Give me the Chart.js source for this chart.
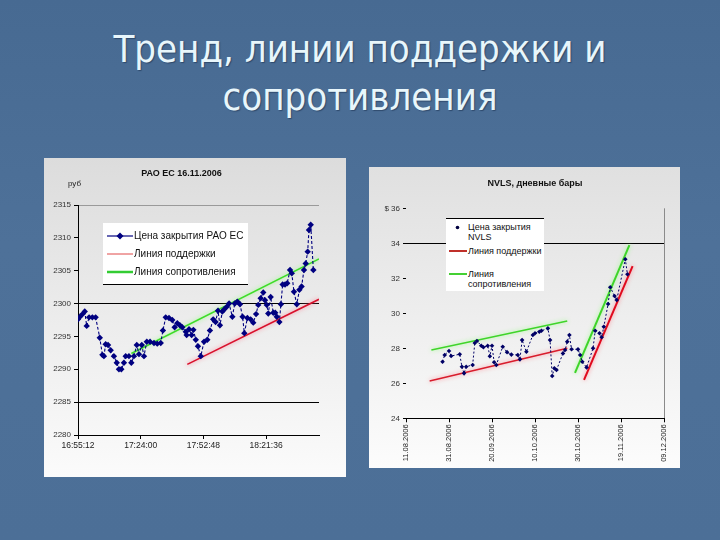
<!DOCTYPE html>
<html>
<head>
<meta charset="utf-8">
<script src="https://cdn.jsdelivr.net/npm/chart.js@4.4.1/dist/chart.umd.min.js"></script>
<style>
html,body{margin:0;padding:0;}
body{width:720px;height:540px;overflow:hidden;position:relative;
  background:linear-gradient(180deg,#476a92 0%,#4e7199 45%,#4c6f97 100%);
  font-family:"Liberation Sans",Arial,sans-serif;}
#slideTitle{position:absolute;left:0;top:25px;width:720px;text-align:center;color:#e8f6fb;
  font-family:"DejaVu Sans Condensed","DejaVu Sans",sans-serif;font-size:38px;line-height:48px;
  text-shadow:1px 1px 1px rgba(20,40,70,0.5);}
.panel{position:absolute;}
#p1{left:44px;top:158px;width:302px;height:319px;background:linear-gradient(180deg,#dcdcdc 0%,#ececec 50%,#fbfbfb 100%);}
#p2{left:369px;top:167px;width:311px;height:301px;background:linear-gradient(180deg,#e0e0e0 0%,#eeeeee 50%,#fcfcfc 100%);}
canvas{position:absolute;left:0;top:0;}
.unit{position:absolute;font-size:8px;color:#222;}
.leg{position:absolute;background:#fff;color:#111;white-space:nowrap;}
.leg .t{position:absolute;line-height:10px;}
.leg svg{position:absolute;}
</style>
</head>
<body>
<div id="slideTitle">Тренд, линии поддержки и<br>сопротивления</div>

<div class="panel" id="p1">
  <canvas id="c1" width="302" height="319"></canvas>
  <div class="unit" style="left:24px;top:21px;">руб</div>
  <div class="leg" style="left:59px;top:65px;width:145px;height:61px;border-bottom:1px solid #000;font-size:10px;">
    <svg style="left:4px;top:9px" width="26" height="8"><line x1="0" y1="4" x2="26" y2="4" stroke="#000080" stroke-width="1.2"/><polygon points="13,0.5 16.5,4 13,7.5 9.5,4" fill="#000080"/></svg>
    <div class="t" style="left:31px;top:8px;">Цена закрытия РАО ЕС</div>
    <svg style="left:4px;top:27px" width="26" height="8"><line x1="0" y1="4" x2="26" y2="4" stroke="#e04848" stroke-width="1"/></svg>
    <div class="t" style="left:31px;top:26px;">Линия поддержки</div>
    <svg style="left:4px;top:45px" width="26" height="8"><line x1="0" y1="4" x2="26" y2="4" stroke="#33cc33" stroke-width="2.5"/></svg>
    <div class="t" style="left:31px;top:44px;">Линия сопротивления</div>
  </div>
</div>

<div class="panel" id="p2">
  <canvas id="c2" width="311" height="301"></canvas>
  <div class="leg" style="left:77px;top:51px;width:98px;height:72px;border-top:1px solid #000;font-size:9px;">
    <svg style="left:8px;top:5px" width="7" height="7"><circle cx="3.5" cy="3.5" r="1.8" fill="#000040"/></svg>
    <div class="t" style="left:22px;top:3px;">Цена закрытия<br>NVLS</div>
    <svg style="left:3px;top:28px" width="18" height="8"><line x1="0" y1="4" x2="18" y2="4" stroke="#c0302a" stroke-width="2"/></svg>
    <div class="t" style="left:22px;top:27px;">Линия поддержки</div>
    <svg style="left:3px;top:51px" width="18" height="8"><line x1="0" y1="4" x2="18" y2="4" stroke="#44d033" stroke-width="2"/></svg>
    <div class="t" style="left:22px;top:50px;">Линия<br>сопротивления</div>
  </div>
</div>

<script>
// ---------- Chart 1: РАО ЕС intraday ----------
const raoTitle = 'РАО ЕС 16.11.2006';
const raoTickLabels = ['16:55:12', '17:24:00', '17:52:48', '18:21:36'];
const raoTimeEnd = '18:45:54';
// minutes after 16:55:12
const raoMinutes = [0,0.9,2.1,3.1,4.0,5.1,6.6,8.1,10.0,11.2,
  11.9,12.7,13.8,15.0,16.5,17.8,18.8,19.9,21.1,21.9,
  23.4,24.5,25.7,27.0,28.0,29.3,30.3,31.6,33.1,34.9,
  36.4,38.0,39.0,40.3,41.8,43.3,44.4,45.6,46.8,47.9,
  49.5,49.9,51.0,52.2,53.0,54.1,55.1,56.4,57.9,59.4,
  60.6,62.1,63.2,64.3,65.2,66.3,67.1,68.3,69.4,70.9,
  72.0,73.2,74.4,75.6,76.4,77.8,79.3,80.5,81.8,82.8,
  83.9,85.1,85.9,86.7,87.4,88.5,89.7,90.6,91.3,92.5,
  93.2,94.0,95.1,96.1,97.4,98.2,99.2,100.5,101.7,102.7,
  103.8,104.6,105.5,106.1,106.9,108.1];
const raoClose = [2297.6,2298.0,2298.4,2298.8,2296.6,2297.9,2297.9,2297.9,2294.8,2292.2,
  2292.0,2293.8,2293.7,2292.9,2292.0,2291.0,2290.0,2290.0,2291.0,2292.0,
  2292.0,2291.0,2292.0,2293.7,2292.3,2293.7,2292.0,2294.2,2294.2,2294.0,
  2293.9,2294.0,2295.9,2297.9,2297.8,2297.5,2296.4,2297.0,2296.7,2296.4,
  2295.7,2295.2,2296.1,2295.2,2296.0,2294.5,2293.5,2292.0,2294.2,2294.5,
  2295.9,2297.6,2297.2,2298.9,2296.7,2298.8,2299.1,2299.5,2300.0,2298.0,
  2300.0,2300.3,2299.9,2298.0,2295.5,2297.8,2297.6,2297.1,2298.4,2299.8,
  2300.8,2301.7,2300.5,2299.8,2298.5,2301.0,2298.6,2298.6,2298.0,2297.2,
  2299.9,2302.9,2302.9,2303.1,2305.1,2304.6,2301.8,2299.9,2302.1,2302.6,
  2305.1,2306.1,2307.9,2311.2,2312.0,2305.1];
const raoSupportMin = [50.2, 110.7];
const raoSupportVal = [2290.75, 2300.65];
const raoResistMin = [24.5, 110.7];
const raoResistVal = [2292.4, 2306.8];
const raoYMin = 2280, raoYMax = 2315, raoYStep = 5;

// ---------- Chart 2: NVLS daily ----------
const nvlsTitle = 'NVLS, дневные бары';
const nvlsTickLabels = ['11.08.2006','31.08.2006','20.09.2006','10.10.2006','30.10.2006','19.11.2006','09.12.2006'];
// days after 11.08.2006
const nvlsDays = [17,18,20,21,25,26,27,28,31,32,
  33,35,36,38,39,40,41,42,45,47,
  49,52,53,54,56,59,60,62,63,66,
  67,68,69,70,73,74,75,76,77,80,
  81,82,84,87,88,90,91,92,94,95,
  97,98,102,103];
const nvlsClose = [27.23,27.62,27.85,27.56,27.66,26.95,26.57,26.95,27.05,28.30,
  28.42,28.15,28.06,28.15,27.55,28.15,27.20,27.05,28.09,27.78,
  27.64,27.62,27.37,28.47,27.80,28.76,28.86,28.95,29.00,29.14,
  28.47,26.42,26.86,26.76,27.71,27.90,28.38,28.76,27.95,27.94,
  27.62,27.23,26.91,28.00,29.00,28.86,28.63,29.23,30.53,31.49,
  30.99,30.76,33.09,32.23];
const nvlsSupport1Day = [11.0, 75.0], nvlsSupport1Val = [26.13, 28.0];
const nvlsResist1Day = [11.8, 75.0], nvlsResist1Val = [27.9, 29.56];
const nvlsSupport2Day = [82.8, 105.4], nvlsSupport2Val = [26.19, 32.7];
const nvlsResist2Day = [78.6, 103.9], nvlsResist2Val = [26.6, 33.9];
const nvlsYMin = 24, nvlsYMax = 36, nvlsYStep = 2;

// ---------- helpers ----------
const toMin = s => { const [h, m, sec] = s.split(':').map(Number); return h * 60 + m + sec / 60; };
const raoStart = toMin(raoTickLabels[0]);
const raoTickValues = raoTickLabels.map(s => toMin(s) - raoStart);
const raoXMax = toMin(raoTimeEnd) - raoStart;

const toDay = s => { const [d, m, y] = s.split('.').map(Number); return Date.UTC(y, m - 1, d) / 86400000; };
const nvlsStart = toDay(nvlsTickLabels[0]);
const nvlsTickValues = nvlsTickLabels.map(s => toDay(s) - nvlsStart);

const pts = (xs, ys) => xs.map((x, i) => ({ x: x, y: ys[i] }));

const glowPlugin = {
  id: 'glow',
  beforeDatasetDraw(chart, args) {
    const ds = chart.data.datasets[args.index];
    if (ds.glowColor) { chart.ctx.save(); chart.ctx.shadowColor = ds.glowColor; chart.ctx.shadowBlur = 4; }
  },
  afterDatasetDraw(chart, args) {
    const ds = chart.data.datasets[args.index];
    if (ds.glowColor) chart.ctx.restore();
  }
};

const FONT = 'Liberation Sans';

// ---------- chart 1 ----------
new Chart(document.getElementById('c1'), {
  type: 'line',
  plugins: [glowPlugin],
  data: {
    datasets: [
      { label: 'Цена закрытия РАО ЕС', data: pts(raoMinutes, raoClose),
        borderColor: '#000080', backgroundColor: '#000080', borderWidth: 1.1, borderDash: [3, 2],
        pointStyle: 'rectRot', pointRadius: 3.2, pointBorderWidth: 0, tension: 0 },
      { label: 'Линия поддержки', data: pts(raoSupportMin, raoSupportVal),
        borderColor: '#d8102c', borderWidth: 1.6, pointRadius: 0, glowColor: 'rgba(255,120,140,0.9)' },
      { label: 'Линия сопротивления', data: pts(raoResistMin, raoResistVal),
        borderColor: '#3fdc2a', borderWidth: 1.6, pointRadius: 0, glowColor: 'rgba(140,255,120,0.9)' }
    ]
  },
  options: {
    responsive: false, animation: false,
    layout: { padding: { left: 0, right: 27, top: 0, bottom: 0 } },
    plugins: {
      legend: { display: false }, tooltip: { enabled: false },
      title: { display: true, text: raoTitle, color: '#111',
        font: { family: FONT, size: 9, weight: 'bold' }, padding: { top: 10, bottom: 26.2 } }
    },
    scales: {
      x: { type: 'linear', min: 0, max: raoXMax,
        afterBuildTicks: s => { s.ticks = raoTickValues.map(v => ({ value: v })); },
        afterFit: s => { s.height = 42; },
        ticks: { callback: (v, i) => raoTickLabels[i], color: '#222', font: { family: FONT, size: 8.5 },
          maxRotation: 0, autoSkip: false, padding: 2 },
        grid: { drawOnChartArea: false, color: '#000', tickLength: 4 },
        border: { color: '#000' } },
      y: { min: raoYMin, max: raoYMax,
        afterFit: s => { s.width = 34; },
        ticks: { stepSize: raoYStep, color: '#333', font: { family: FONT, size: 8 }, padding: 3,
          callback: v => String(v) },
        grid: { color: c => (c.tick.value === raoYMax ? '#9a9a9a' : ((raoYMax - c.tick.value) % 15 === 0 ? '#000' : 'rgba(0,0,0,0)')),
          tickColor: '#000', tickLength: 4 },
        border: { color: '#000' } }
    }
  }
});

// ---------- chart 2 ----------
new Chart(document.getElementById('c2'), {
  type: 'line',
  plugins: [glowPlugin],
  data: {
    datasets: [
      { label: 'Цена закрытия NVLS', data: pts(nvlsDays, nvlsClose),
        borderColor: '#000066', backgroundColor: '#000066', borderWidth: 1, borderDash: [2, 2],
        pointStyle: 'rectRot', pointRadius: 2.3, pointBorderWidth: 0, tension: 0 },
      { label: 'Линия поддержки', data: pts(nvlsSupport1Day, nvlsSupport1Val),
        borderColor: '#d81c2c', borderWidth: 1.5, pointRadius: 0, glowColor: 'rgba(255,130,140,0.9)' },
      { label: 'Линия сопротивления', data: pts(nvlsResist1Day, nvlsResist1Val),
        borderColor: '#3fd42a', borderWidth: 1.5, pointRadius: 0, glowColor: 'rgba(150,255,130,0.9)' },
      { label: 'Линия поддержки 2', data: pts(nvlsSupport2Day, nvlsSupport2Val),
        borderColor: '#e00a1e', borderWidth: 2, pointRadius: 0, glowColor: 'rgba(255,130,140,0.9)' },
      { label: 'Линия сопротивления 2', data: pts(nvlsResist2Day, nvlsResist2Val),
        borderColor: '#3fd42a', borderWidth: 2, pointRadius: 0, glowColor: 'rgba(150,255,130,0.9)' }
    ]
  },
  options: {
    responsive: false, animation: false,
    layout: { padding: { left: 0, right: 16, top: 0, bottom: 0 } },
    plugins: {
      legend: { display: false }, tooltip: { enabled: false },
      title: { display: true, text: nvlsTitle, color: '#111', fullSize: false,
        font: { family: FONT, size: 9, weight: 'bold' }, padding: { top: 11, bottom: 19.5 } }
    },
    scales: {
      x: { type: 'linear', min: nvlsTickValues[0], max: nvlsTickValues[nvlsTickValues.length - 1],
        afterBuildTicks: s => { s.ticks = nvlsTickValues.map(v => ({ value: v })); },
        afterFit: s => { s.height = 49.7; },
        ticks: { callback: (v, i) => nvlsTickLabels[i], color: '#222', font: { family: FONT, size: 7.5 },
          minRotation: 90, maxRotation: 90, autoSkip: false, padding: 2 },
        grid: { drawOnChartArea: true,
          color: c => (c.index === nvlsTickValues.length - 1 ? '#8a8a8a' : 'rgba(0,0,0,0)'),
          tickColor: '#000', tickLength: 4 },
        border: { color: '#000' } },
      y: { min: nvlsYMin, max: nvlsYMax,
        afterFit: s => { s.width = 37; },
        ticks: { stepSize: nvlsYStep, color: '#333', font: { family: FONT, size: 8 }, padding: 3,
          callback: v => (v === nvlsYMax ? '$ ' + v : String(v)) },
        grid: { color: c => (c.tick.value === 34 ? '#000' : 'rgba(0,0,0,0)'), tickColor: '#000', tickLength: 3 },
        border: { display: false } }
    }
  }
});
</script>
</body>
</html>
